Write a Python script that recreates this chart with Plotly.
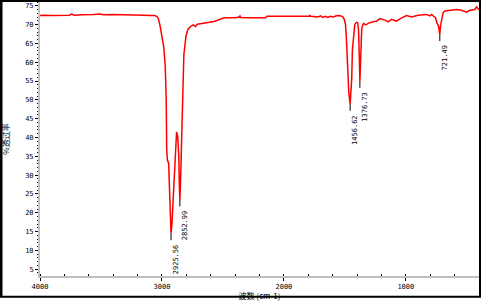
import plotly.graph_objects as go

# Spectrum data (wavenumber in cm-1, transmittance in %)
wavenumber = [4000, 3960, 3900, 3850, 3800, 3760, 3740, 3720, 3650, 3600, 3560, 3510, 3480, 3400,
              3300, 3250, 3200, 3150, 3100, 3060, 3040, 3030, 3016, 3000, 2985, 2973, 2965, 2961,
              2955, 2945, 2937, 2930, 2925.56, 2918, 2910, 2905, 2895, 2888, 2880, 2870, 2862,
              2857, 2852.99, 2846, 2840, 2835, 2830, 2826, 2820, 2812, 2803, 2787, 2765, 2745,
              2725, 2710, 2650, 2610, 2565, 2525, 2490, 2400, 2365, 2360, 2355, 2300, 2200, 2150,
              2140, 2050, 1950, 1850, 1790, 1786, 1780, 1720, 1700, 1680, 1660, 1640, 1620, 1600,
              1560, 1530, 1515, 1505, 1495, 1487, 1478, 1468, 1456.62, 1450, 1444, 1438, 1428,
              1418, 1405, 1395, 1388, 1383, 1378, 1376.73, 1372, 1368, 1362, 1355, 1345, 1330,
              1315, 1295, 1260, 1240, 1213, 1172, 1145, 1117, 1076, 1035, 994, 953, 899, 830,
              803, 789, 756, 746, 732, 721.49, 716, 707, 694, 680, 639, 584, 543, 502, 475, 434,
              420, 407, 400]
transmittance = [72.4, 72.5, 72.4, 72.5, 72.6, 72.5, 72.8, 72.5, 72.6, 72.6, 72.7, 72.8, 72.6, 72.7,
                 72.7, 72.6, 72.6, 72.5, 72.4, 72.4, 72.1, 71.6, 69.8, 66.9, 64.0, 59.0, 50.0, 36.6,
                 34.0, 33.1, 27.0, 20.4, 14.5, 17.0, 22.0, 25.2, 29.2, 34.5, 41.5, 40.0, 35.2,
                 27.0, 23.5, 30.0, 36.0, 41.5, 47.6, 55.0, 62.1, 65.3, 66.9, 68.7, 69.5, 69.9,
                 69.5, 70.1, 70.3, 70.6, 70.9, 71.4, 71.8, 71.8, 72.0, 72.4, 71.9, 71.8, 71.8, 71.8,
                 72.2, 72.2, 72.2, 72.2, 72.2, 72.5, 72.2, 72.0, 72.3, 71.9, 72.2, 71.9, 72.2, 72.0,
                 72.4, 72.3, 72.0, 71.4, 70.1, 66.1, 57.0, 52.0, 48.9, 51.6, 55.5, 63.4, 67.9,
                 70.1, 70.6, 70.5, 68.7, 64.8, 57.0, 55.0, 62.0, 66.9, 68.7, 69.8, 70.3, 69.9,
                 70.2, 70.5, 70.8, 70.9, 71.6, 71.2, 70.7, 71.4, 70.9, 71.8, 72.4, 72.0, 72.5, 72.7,
                 72.3, 72.7, 71.8, 70.5, 69.6, 67.4, 69.6, 71.4, 73.2, 73.6, 73.8, 74.0, 73.8, 73.3,
                 73.8, 74.0, 74.7, 74.2, 73.9]

# Labelled peaks
peak_wn = [2925.56, 2852.99, 1456.62, 1376.73, 721.49]
peak_t = [14.5, 23.5, 48.9, 55.0, 67.4]
peak_labels = ["2925.56", "2852.99", "1456.62", "1376.73", "721.49"]

x_ticks = [4000, 3000, 2000, 1000]
y_ticks = [5, 10, 15, 20, 25, 30, 35, 40, 45, 50, 55, 60, 65, 70, 75]

x_title = "波数 (cm-1)"
y_title = "%透过率"

tick_drop = 1.8
fig = go.Figure()
fig.add_trace(go.Scatter(x=wavenumber, y=transmittance, mode="lines",
                         line=dict(color="#ff0000", width=1.5), hoverinfo="skip"))

mx, my = [], []
for w, t in zip(peak_wn, peak_t):
    mx += [w, w, None]
    my += [t, t - tick_drop, None]
fig.add_trace(go.Scatter(x=mx, y=my, mode="lines", line=dict(color="black", width=1),
                         hoverinfo="skip"))

for w, t, lab in zip(peak_wn, peak_t, peak_labels):
    fig.add_annotation(x=w, y=t - tick_drop, text=lab, textangle=-90, showarrow=False,
                       xanchor="left", yanchor="top", xshift=-1, yshift=-2,
                       font=dict(family="DejaVu Sans Mono", size=7, color="black"))

W, H = 481, 301
ml, mr, mt, mb = 40, 2, 2, 23
pw, ph = W - ml - mr, H - mt - mb

fig.update_layout(
    width=W, height=H, margin=dict(l=ml, r=mr, t=mt, b=mb),
    paper_bgcolor="white", plot_bgcolor="white", showlegend=False,
    font=dict(family="DejaVu Sans Mono", size=7, color="black"),
    xaxis=dict(range=[4000, 400], showgrid=False, zeroline=False, showline=True,
               linecolor="#c0c0c0", linewidth=2, ticks="outside", ticklen=3,
               tickcolor="black", tickwidth=1, tickvals=x_ticks,
               ticktext=[str(v) for v in x_ticks],
               tickfont=dict(family="DejaVu Sans Mono", size=7, color="black"),
               minor=dict(dtick=200, tick0=0, ticks="inside", ticklen=2, tickcolor="black"),
               title=dict(text=x_title, standoff=2,
                          font=dict(family="Noto Sans CJK SC", size=8, color="black"))),
    yaxis=dict(range=[3.2, 76], showgrid=False, zeroline=False, showline=True,
               linecolor="#c0c0c0", linewidth=2, ticks="outside", ticklen=3,
               tickcolor="black", tickwidth=1, tickvals=y_ticks,
               ticktext=[str(v) for v in y_ticks],
               tickfont=dict(family="DejaVu Sans Mono", size=7, color="black"),
               minor=dict(dtick=1, tick0=0, ticks="outside", ticklen=1, tickcolor="black"),
               title=dict(text=y_title, standoff=18,
                          font=dict(family="Noto Sans CJK SC", size=8, color="black"))),
)

# outer frame around the whole image
fig.add_shape(type="rect", xref="paper", yref="paper",
              x0=-(ml - 1) / pw, x1=1 + (mr - 1) / pw,
              y0=-(mb - 2) / ph, y1=1 + (mt - 1) / ph,
              line=dict(color="black", width=2), layer="above")
fig.add_shape(type="line", xref="paper", yref="paper",
              x0=-(ml - 2) / pw, x1=-(ml - 2) / pw,
              y0=-(mb - 2) / ph, y1=1 + (mt - 1) / ph,
              line=dict(color="black", width=1), layer="above")

fig.write_html("out.html")
